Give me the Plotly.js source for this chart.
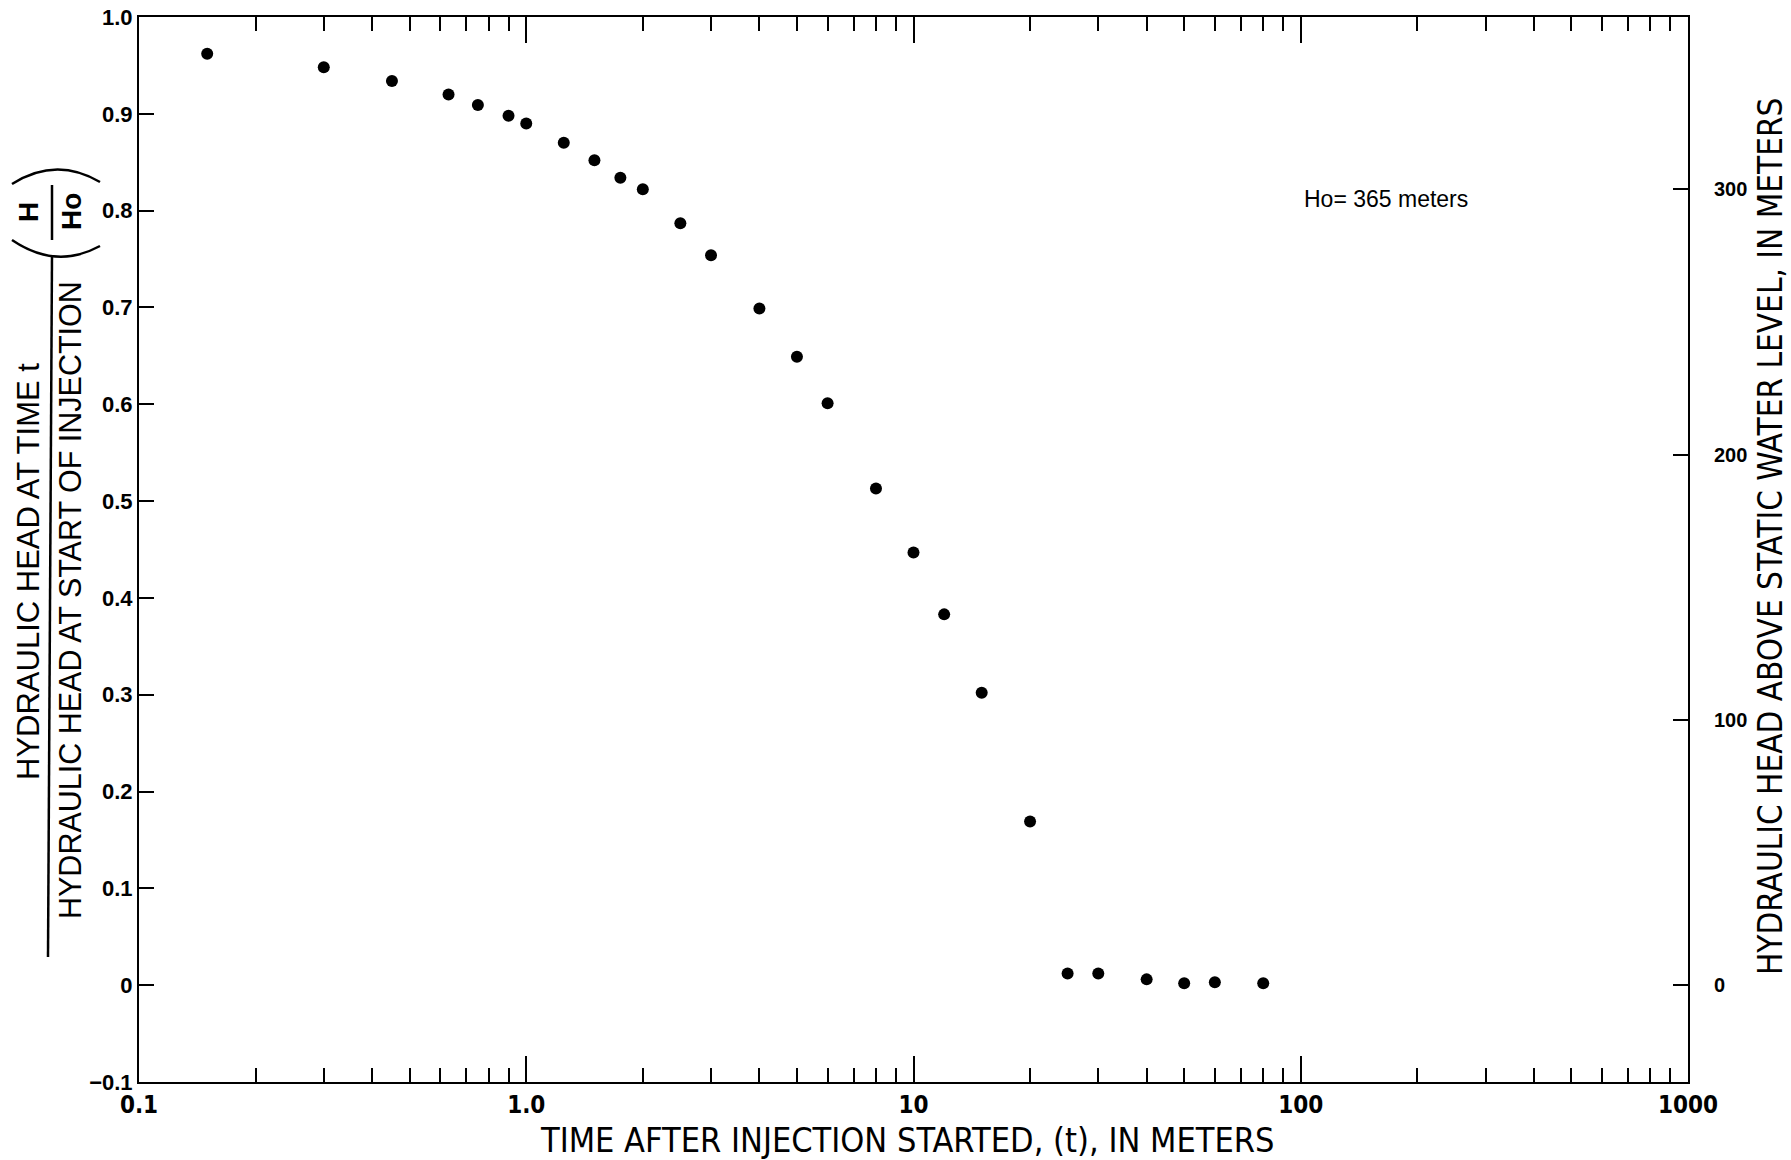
<!DOCTYPE html>
<html>
<head>
<meta charset="utf-8">
<script src="https://cdn.plot.ly/plotly-3.0.1.min.js"></script>
<style>
  html, body { margin: 0; padding: 0; background: #ffffff; }
  #chart { width: 1791px; height: 1160px; }
</style>
</head>
<body>
<div id="chart"></div>
<script>
// ---- Data ----
const timeAfterInjection = [0.15, 0.3, 0.45, 0.63, 0.75, 0.9, 1.0, 1.25, 1.5, 1.75, 2, 2.5, 3, 4, 5, 6, 8, 10, 12, 15, 20, 25, 30, 40, 50, 60, 80];
const headRatio = [0.962, 0.948, 0.934, 0.920, 0.909, 0.898, 0.890, 0.870, 0.852, 0.834, 0.822, 0.787, 0.754, 0.699, 0.649, 0.601, 0.513, 0.447, 0.383, 0.302, 0.169, 0.012, 0.012, 0.006, 0.002, 0.003, 0.002];
const Ho = 365; // meters

const xTickVals = [0.1, 1, 10, 100, 1000];
const xTickText = ["0.1", "1.0", "10", "100", "1000"];
const xMinorTicks = [0.2, 0.3, 0.4, 0.5, 0.6, 0.7, 0.8, 0.9,
                     2, 3, 4, 5, 6, 7, 8, 9,
                     20, 30, 40, 50, 60, 70, 80, 90,
                     200, 300, 400, 500, 600, 700, 800, 900];
const yTickVals = [1.0, 0.9, 0.8, 0.7, 0.6, 0.5, 0.4, 0.3, 0.2, 0.1, 0, -0.1];
const yTickText = ["1.0", "0.9", "0.8", "0.7", "0.6", "0.5", "0.4", "0.3", "0.2", "0.1", "0", "\u22120.1"];
const y2TickVals = [0, 100, 200, 300];
const y2TickText = ["0", "100", "200", "300"];

const narrow = '"Liberation Sans Narrow", "DejaVu Sans Condensed", "Liberation Sans", Arial, sans-serif';
const sans = '"Liberation Sans", Arial, Helvetica, sans-serif';

const traces = [
  {
    type: 'scatter',
    mode: 'markers',
    x: timeAfterInjection,
    y: headRatio,
    marker: { color: '#000000', size: 12 },
    xaxis: 'x', yaxis: 'y',
    hoverinfo: 'x+y',
    showlegend: false
  },
  {
    type: 'scatter',
    mode: 'markers',
    x: timeAfterInjection,
    y: headRatio.map(v => v * Ho),
    marker: { color: 'rgba(0,0,0,0)', size: 1 },
    xaxis: 'x', yaxis: 'y2',
    hoverinfo: 'skip',
    showlegend: false
  }
];

const layout = {
  width: 1791,
  height: 1160,
  paper_bgcolor: '#ffffff',
  plot_bgcolor: '#ffffff',
  margin: { l: 139, r: 103, t: 17, b: 78 },
  showlegend: false,
  xaxis: {
    type: 'log',
    range: [-1, 3],
    tickmode: 'array',
    tickvals: xTickVals,
    ticktext: xTickText,
    ticks: 'inside',
    ticklen: 26,
    tickwidth: 2,
    tickcolor: '#000',
    showline: true,
    linecolor: '#000',
    linewidth: 2,
    mirror: 'ticks',
    showgrid: false,
    zeroline: false,
    tickfont: { family: narrow, size: 24, color: '#000', weight: 'bold' },
    minor: {
      tickmode: 'array',
      tickvals: xMinorTicks,
      ticks: 'inside',
      ticklen: 14,
      tickwidth: 2,
      tickcolor: '#000',
      showgrid: false
    }
  },
  yaxis: {
    range: [-0.1, 1.0],
    tickmode: 'array',
    tickvals: yTickVals,
    ticktext: yTickText,
    ticks: 'inside',
    ticklen: 15,
    tickwidth: 2,
    tickcolor: '#000',
    showline: true,
    linecolor: '#000',
    linewidth: 2,
    mirror: false,
    showgrid: false,
    zeroline: false,
    tickfont: { family: sans, size: 22, color: '#000', weight: 'bold' }
  },
  yaxis2: {
    overlaying: 'y',
    side: 'right',
    range: [-0.1 * Ho, 1.0 * Ho],
    tickmode: 'array',
    tickvals: y2TickVals,
    ticktext: y2TickText,
    ticks: 'inside',
    ticklen: 15,
    tickwidth: 2,
    tickcolor: '#000',
    showline: true,
    linecolor: '#000',
    linewidth: 2,
    showgrid: false,
    zeroline: false,
    ticklabelstandoff: 20,
    tickfont: { family: sans, size: 20, color: '#000', weight: 'bold' }
  },
  annotations: [
    {
      text: 'TIME AFTER INJECTION STARTED, (t), IN METERS',
      xref: 'paper', yref: 'paper', x: 0.4958, y: -0.0545,
      xanchor: 'center', yanchor: 'middle', showarrow: false,
      font: { family: narrow, size: 34, color: '#000' }
    },
    {
      text: 'HYDRAULIC HEAD ABOVE STATIC WATER LEVEL, IN METERS',
      xref: 'paper', yref: 'paper', x: (1770 - 139) / 1549, y: 0.5117,
      xanchor: 'center', yanchor: 'middle', textangle: -90, showarrow: false,
      font: { family: narrow, size: 33, color: '#000' }
    },
    {
      text: 'HYDRAULIC HEAD AT TIME t',
      xref: 'paper', yref: 'paper', x: (28 - 139) / 1549, y: (1082 - 572) / 1065,
      xanchor: 'center', yanchor: 'middle', textangle: -90, showarrow: false,
      font: { family: sans, size: 31, color: '#000' }
    },
    {
      text: 'HYDRAULIC HEAD AT START OF INJECTION',
      xref: 'paper', yref: 'paper', x: (70 - 139) / 1549, y: (1082 - 600) / 1065,
      xanchor: 'center', yanchor: 'middle', textangle: -90, showarrow: false,
      font: { family: sans, size: 30.5, color: '#000' }
    },
    {
      text: 'H',
      xref: 'paper', yref: 'paper', x: (29 - 139) / 1549, y: (1082 - 212) / 1065,
      xanchor: 'center', yanchor: 'middle', textangle: -90, showarrow: false,
      font: { family: sans, size: 28, color: '#000', weight: 'bold' }
    },
    {
      text: 'Ho',
      xref: 'paper', yref: 'paper', x: (72 - 139) / 1549, y: (1082 - 212) / 1065,
      xanchor: 'center', yanchor: 'middle', textangle: -90, showarrow: false,
      font: { family: sans, size: 28, color: '#000', weight: 'bold' }
    },
    {
      text: 'Ho= 365 meters',
      xref: 'paper', yref: 'paper', x: (1302 - 139) / 1549, y: (1082 - 199) / 1065,
      xanchor: 'left', yanchor: 'middle', showarrow: false,
      font: { family: sans, size: 23, color: '#000' }
    }
  ],
  shapes: [
    // main fraction bar of the left axis title
    { type: 'line', xref: 'paper', yref: 'paper',
      x0: (52 - 139) / 1549, x1: (48 - 139) / 1549,
      y0: (1082 - 255) / 1065, y1: (1082 - 957) / 1065,
      line: { color: '#000', width: 2.5 } },
    // small fraction bar H / Ho
    { type: 'line', xref: 'paper', yref: 'paper',
      x0: (52 - 139) / 1549, x1: (52 - 139) / 1549,
      y0: (1082 - 185) / 1065, y1: (1082 - 240) / 1065,
      line: { color: '#000', width: 2.5 } },
    // parentheses (rotated) as arcs
    { type: 'path', xref: 'paper', yref: 'paper',
      path: 'M ' + ((12 - 139) / 1549) + ',' + ((1082 - 184) / 1065) +
            ' Q ' + ((56 - 139) / 1549) + ',' + ((1082 - 156) / 1065) +
            ' ' + ((100 - 139) / 1549) + ',' + ((1082 - 182) / 1065),
      line: { color: '#000', width: 2.5 } },
    { type: 'path', xref: 'paper', yref: 'paper',
      path: 'M ' + ((12 - 139) / 1549) + ',' + ((1082 - 240) / 1065) +
            ' Q ' + ((56 - 139) / 1549) + ',' + ((1082 - 270) / 1065) +
            ' ' + ((100 - 139) / 1549) + ',' + ((1082 - 246) / 1065),
      line: { color: '#000', width: 2.5 } }
  ]
};

Plotly.newPlot('chart', traces, layout, { staticPlot: true, displayModeBar: false });
</script>
</body>
</html>
